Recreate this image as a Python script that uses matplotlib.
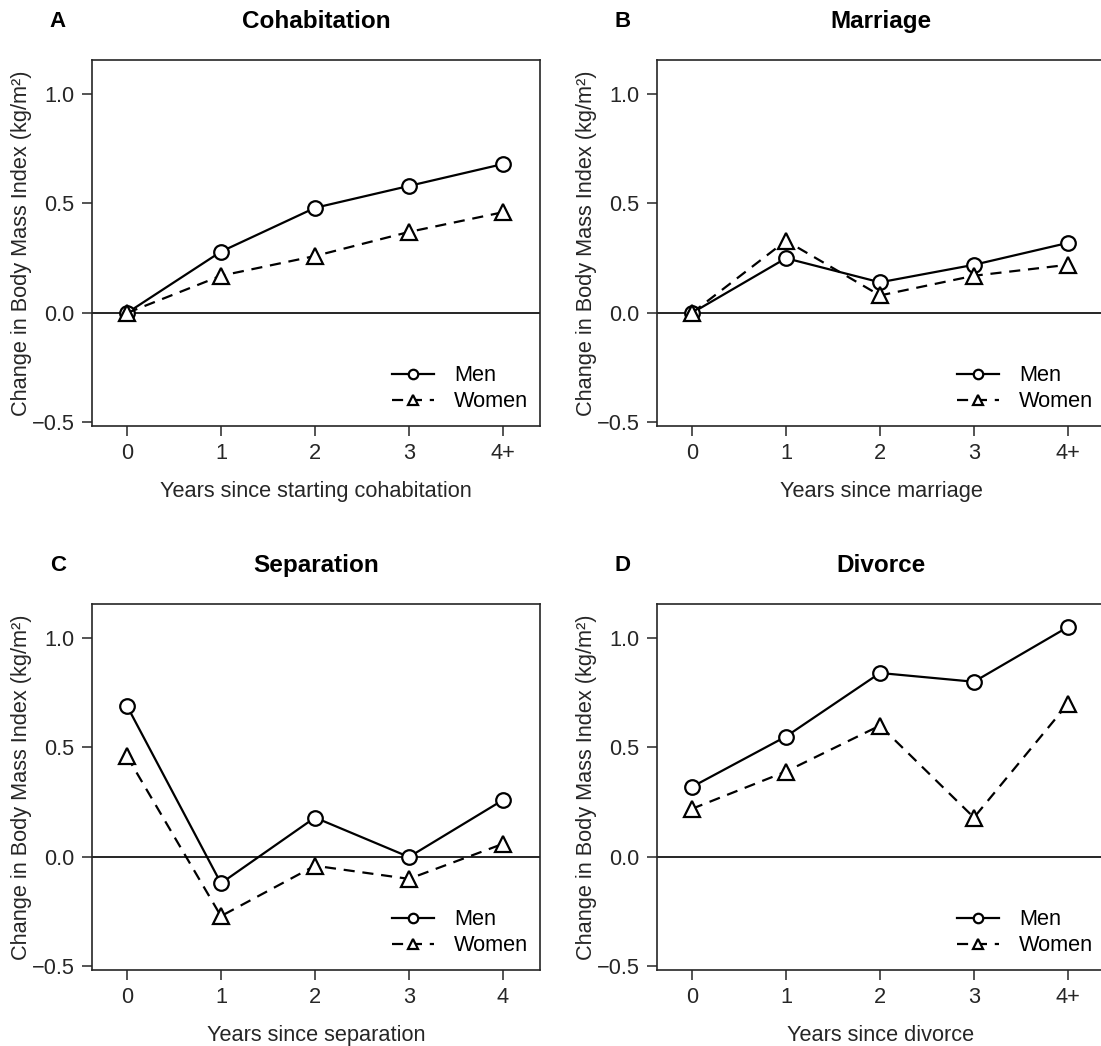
import matplotlib
matplotlib.use("Agg")
import matplotlib.pyplot as plt

plt.rcParams['font.family'] = ['Liberation Sans', 'DejaVu Sans']

years = [0, 1, 2, 3, 4]
ticks_plus = ["0", "1", "2", "3", "4+"]
ticks_plain = ["0", "1", "2", "3", "4"]

# Cohabitation
cohab_men = [0.0, 0.28, 0.48, 0.58, 0.68]
cohab_women = [0.0, 0.17, 0.26, 0.37, 0.46]
# Marriage
marr_men = [0.0, 0.25, 0.14, 0.22, 0.32]
marr_women = [0.0, 0.33, 0.08, 0.17, 0.22]
# Separation
sep_men = [0.69, -0.12, 0.18, 0.0, 0.26]
sep_women = [0.46, -0.27, -0.04, -0.10, 0.06]
# Divorce
div_men = [0.32, 0.55, 0.84, 0.80, 1.05]
div_women = [0.22, 0.39, 0.60, 0.18, 0.70]

panels = [
    ("A", "Cohabitation", "Years since starting cohabitation", cohab_men, cohab_women, ticks_plus),
    ("B", "Marriage", "Years since marriage", marr_men, marr_women, ticks_plus),
    ("C", "Separation", "Years since separation", sep_men, sep_women, ticks_plain),
    ("D", "Divorce", "Years since divorce", div_men, div_women, ticks_plus),
]

W, H = 1101, 1046
fig = plt.figure(figsize=(W / 100, H / 100), dpi=100)

# axes boxes in pixels: left, top
boxes = [(92, 60), (657, 60), (92, 604), (657, 604)]
bw, bh = 448, 366

txt = "#262626"
fs = 15.7
for (letter, title, xlab, men, women, xt), (left, top) in zip(panels, boxes):
    ax = fig.add_axes([left / W, 1 - (top + bh) / H, bw / W, bh / H])
    ax.axhline(0, color="black", lw=1.2, zorder=1)
    ax.plot(years, men, color="black", lw=1.6, marker="o", ms=10.5,
            mfc="white", mec="black", mew=1.6, label="Men", zorder=3)
    ax.plot(years, women, color="black", lw=1.6, ls=(0, (5, 3.5)), marker="^", ms=11,
            mfc="white", mec="black", mew=1.6, label="Women", zorder=3)
    ax.set_xlim(-0.372, 4.394)
    ax.set_ylim(-0.516, 1.155)
    ax.set_xticks(years)
    ax.set_xticklabels(xt)
    ax.set_yticks([-0.5, 0.0, 0.5, 1.0])
    ax.set_yticklabels(["\u22120.5", "0.0", "0.5", "1.0"])
    ax.tick_params(direction="out", length=7.5, width=1.1, colors=txt,
                   labelsize=fs, pad=5)
    for s in ax.spines.values():
        s.set_linewidth(1.2)
        s.set_color(txt)
    ax.set_xlabel(xlab, fontsize=fs, color=txt, labelpad=12)
    ax.set_ylabel("Change in Body Mass Index (kg/m\u00b2)", fontsize=fs, color=txt)
    ax.yaxis.set_label_coords(-0.134, 0.5)
    ax.text(0.5, 1.104, title, transform=ax.transAxes, ha="center", va="center",
            fontsize=17.5, fontweight="bold", color="black")
    ax.text(-0.076, 1.104, letter, transform=ax.transAxes, ha="center", va="center",
            fontsize=16, fontweight="bold", color="black")
    ax.legend(loc="lower right", bbox_to_anchor=(0.998, 0.008), frameon=False,
              fontsize=fs, handlelength=1.95, handletextpad=0.9, markerscale=0.65,
              borderpad=0, labelspacing=0.22)

fig.savefig("out.png", dpi=100)
